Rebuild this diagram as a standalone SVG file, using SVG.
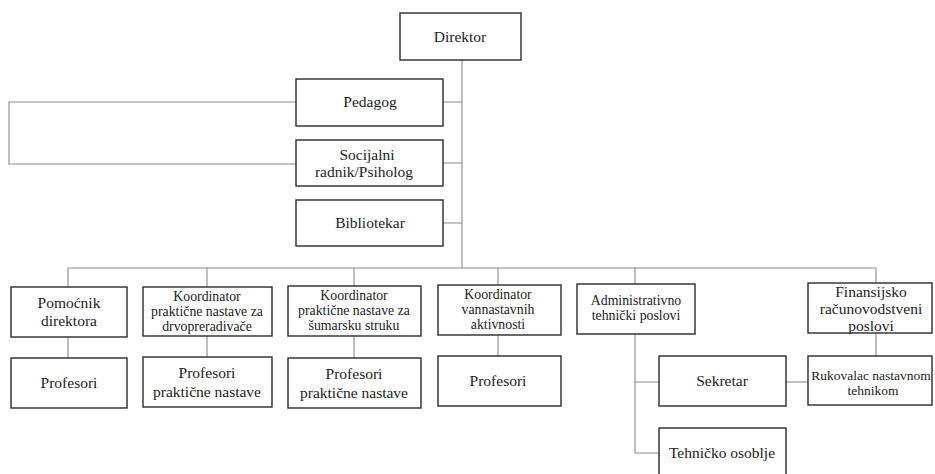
<svg xmlns="http://www.w3.org/2000/svg" width="935" height="474" viewBox="0 0 935 474">
<style>
.box{fill:#fff;stroke:#2a2a2a;stroke-width:1.4}
.ln{fill:none;stroke:#8a8a8a;stroke-width:1.1}
.t text{fill:#222;text-anchor:middle}
.b{font-size:15.5px}
.s{font-size:13.8px}
.f{font-size:15.5px}
.xs{font-size:13.5px}
</style>
<rect width="935" height="474" fill="#fff"/>
<g id="connectors">
<path class="ln" d="M462 60V268"/>
<path class="ln" d="M443 102H462M443 163H462M443 223H462"/>
<path class="ln" d="M296 102H9V164H296"/>
<path class="ln" d="M68 268H876"/>
<path class="ln" d="M68 268V287M207 268V287M354 268V286M498 268V285M635 268V284M876 268V283"/>
<path class="ln" d="M68 337V358M207 336V357M354 336V358M498 335V356M876 333V356"/>
<path class="ln" d="M635 334V453H659M635 382H659"/>
<path class="ln" d="M786 382H808"/>
</g>
<g class="t" font-family="'Liberation Serif', 'Times New Roman', serif">
<g id="direktor"><rect class="box" x="400" y="13" width="121" height="47"/><text class="b" x="460" y="42">Direktor</text></g>
<g id="pedagog"><rect class="box" x="296" y="79" width="147" height="47"/><text class="b" x="370" y="107">Pedagog</text></g>
<g id="socijalni"><rect class="box" x="296" y="140" width="147" height="46"/><text class="b" x="367" y="160">Socijalni</text><text class="b" x="364" y="177">radnik/Psiholog</text></g>
<g id="bibliotekar"><rect class="box" x="296" y="200" width="147" height="46"/><text class="b" x="370" y="228">Bibliotekar</text></g>
<g id="pomocnik"><rect class="box" x="11" y="287" width="116" height="50"/><text class="b" x="69" y="308">Pomoćnik</text><text class="b" x="69" y="326">direktora</text></g>
<g id="koord-drvo"><rect class="box" x="143" y="287" width="129" height="49"/><text class="s" x="207" y="301">Koordinator</text><text class="s" x="207" y="316">praktične nastave za</text><text class="s" x="207" y="331">drvopreradivače</text></g>
<g id="koord-sumar"><rect class="box" x="288" y="286" width="133" height="50"/><text class="s" x="354" y="300">Koordinator</text><text class="s" x="354" y="315">praktične nastave za</text><text class="s" x="354" y="330">šumarsku struku</text></g>
<g id="koord-vann"><rect class="box" x="438" y="285" width="123" height="50"/><text class="s" x="498" y="299">Koordinator</text><text class="s" x="498" y="314">vannastavnih</text><text class="s" x="498" y="329">aktivnosti</text></g>
<g id="admin"><rect class="box" x="577" y="284" width="118" height="50"/><text class="s" x="636" y="305">Administrativno</text><text class="s" x="636" y="320">tehnički poslovi</text></g>
<g id="finansijsko"><rect class="box" x="808" y="283" width="124" height="50"/><text class="f" x="871" y="297">Finansijsko</text><text class="f" x="871" y="314">računovodstveni</text><text class="f" x="871" y="331">poslovi</text></g>
<g id="profesori1"><rect class="box" x="11" y="358" width="116" height="50"/><text class="b" x="69" y="388">Profesori</text></g>
<g id="profesori-pn1"><rect class="box" x="143" y="357" width="129" height="50"/><text class="b" x="207" y="378">Profesori</text><text class="b" x="207" y="397">praktične nastave</text></g>
<g id="profesori-pn2"><rect class="box" x="288" y="358" width="133" height="50"/><text class="b" x="354" y="379">Profesori</text><text class="b" x="354" y="398">praktične nastave</text></g>
<g id="profesori2"><rect class="box" x="438" y="356" width="123" height="50"/><text class="b" x="498" y="386">Profesori</text></g>
<g id="sekretar"><rect class="box" x="659" y="356" width="127" height="50"/><text class="b" x="722" y="386">Sekretar</text></g>
<g id="rukovalac"><rect class="box" x="808" y="356" width="124" height="49"/><text class="xs" x="871" y="380">Rukovalac nastavnom</text><text class="xs" x="873" y="395">tehnikom</text></g>
<g id="tehnicko"><rect class="box" x="659" y="428" width="127" height="50"/><text class="b" x="722" y="458">Tehničko osoblje</text></g>
</g>
</svg>
